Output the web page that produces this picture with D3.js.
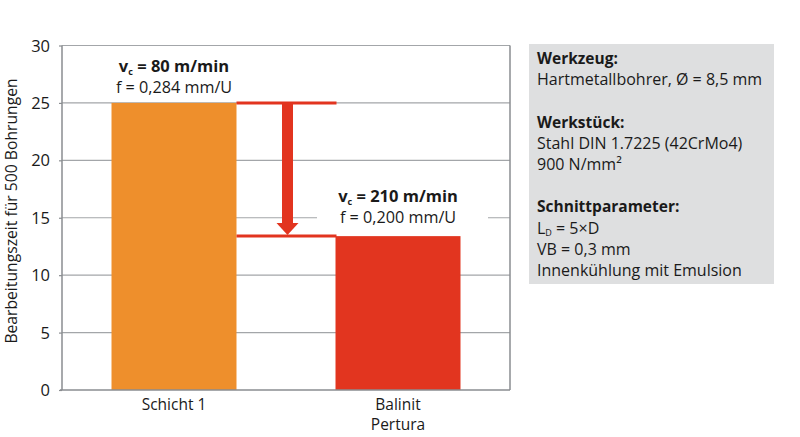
<!DOCTYPE html>
<html><head><meta charset="utf-8">
<script src="https://cdn.jsdelivr.net/npm/d3@7"></script>
<style>
body{margin:0;background:#fff;}
svg text{font-family:"Open Sans","Noto Sans",sans-serif;fill:#1a1a1a;}
</style></head>
<body><svg id="c" width="800" height="437"></svg>
<script>
const categories = ["Schicht 1", "Balinit Pertura"];
const values = [25, 13.4];
const barColors = ["#EE8F2C", "#E2351F"];
const vcLabels = ["80 m/min", "210 m/min"];
const fLabels = ["f = 0,284 mm/U", "f = 0,200 mm/U"];
const yTicks = [0, 5, 10, 15, 20, 25, 30];
const yTitle = "Bearbeitungszeit für 500 Bohrungen";
const infoLines = [
  {t:"Werkzeug:", b:true},
  {t:"Hartmetallbohrer, Ø = 8,5 mm"},
  {t:""},
  {t:"Werkstück:", b:true},
  {t:"Stahl DIN 1.7225 (42CrMo4)"},
  {t:"900 N/mm²"},
  {t:""},
  {t:"Schnittparameter:", b:true},
  {t:"LD", sub:true},
  {t:"VB = 0,3 mm"},
  {t:"Innenkühlung mit Emulsion"}
];

const svg = d3.select("#c");
const L = 62, R = 510, T = 45.5, B = 390;
const x = d3.scaleBand().domain(categories).range([L, R]).paddingInner(0.442).paddingOuter(0.221);
const y = d3.scaleLinear().domain([0, 30]).range([B, T]);
const red = "#E2341F", grid = "#a3a6a9";

// gridlines
svg.append("g").selectAll("line").data(yTicks.filter(d => d > 0)).join("line")
  .attr("x1", L).attr("x2", R).attr("y1", d => y(d)).attr("y2", d => y(d))
  .attr("stroke", grid).attr("stroke-width", 1.2);

// frame: left axis, right border
svg.append("line").attr("x1", L).attr("x2", L).attr("y1", T).attr("y2", B).attr("stroke", "#8a8d90").attr("stroke-width", 1.5);
svg.append("line").attr("x1", R).attr("x2", R).attr("y1", T).attr("y2", B).attr("stroke", "#8a8d90").attr("stroke-width", 1.5);

// y axis ticks and labels
const yAxis = d3.axisLeft(y).tickValues(yTicks).tickSize(3).tickPadding(9).tickFormat(d3.format("d"));
const ga = svg.append("g").attr("transform", `translate(${L},0)`).call(yAxis);
ga.select(".domain").remove();
ga.selectAll(".tick line").attr("stroke", "#8a8d90").attr("stroke-width", 1.2);
ga.selectAll(".tick text").attr("font-size", 16.5).attr("font-family", '"Open Sans",sans-serif').attr("fill", "#1a1a1a").attr("dy", "0.34em");

// y title
svg.append("text").attr("transform", `translate(17,${211}) rotate(-90)`)
  .attr("text-anchor", "middle").attr("font-size", 15.7).text(yTitle);

// bars
svg.append("g").selectAll("rect").data(values).join("rect")
  .attr("x", (d, i) => x(categories[i])).attr("width", x.bandwidth())
  .attr("y", d => y(d)).attr("height", d => B - y(d))
  .attr("fill", (d, i) => barColors[i]);

// bottom axis line
svg.append("line").attr("x1", L - 2).attr("x2", R).attr("y1", B).attr("y2", B).attr("stroke", "#8a8d90").attr("stroke-width", 1.5);

// category labels
categories.forEach((c, i) => {
  const words = c === "Schicht 1" ? [c] : c.split(" ");
  const t = svg.append("text").attr("text-anchor", "middle").attr("font-size", 15.5)
    .attr("x", x(c) + x.bandwidth() / 2).attr("y", 409.5);
  words.forEach((w, k) => t.append("tspan").attr("x", x(c) + x.bandwidth() / 2).attr("dy", k ? 20.5 : 0).text(w));
});

// reduction arrow
const x0 = x(categories[0]) + x.bandwidth(), x1 = x(categories[1]);
const ax = x0 + 51;
svg.append("line").attr("x1", x0).attr("x2", x1 + 1).attr("y1", y(values[0])).attr("y2", y(values[0])).attr("stroke", red).attr("stroke-width", 3);
svg.append("line").attr("x1", x0).attr("x2", x1 + 1).attr("y1", y(values[1])).attr("y2", y(values[1])).attr("stroke", red).attr("stroke-width", 3);
svg.append("rect").attr("x", ax - 5.5).attr("width", 11).attr("y", y(values[0])).attr("height", y(values[1]) - 12 - y(values[0])).attr("fill", red);
svg.append("path").attr("d", `M${ax - 11},${y(values[1]) - 13} L${ax + 11},${y(values[1]) - 13} L${ax},${y(values[1]) - 1} Z`).attr("fill", red);

// value annotations
const annY = [[72, 93], [202, 223]];
values.forEach((v, i) => {
  const cx = x(categories[i]) + x.bandwidth() / 2;
  if (i === 1) svg.append("rect").attr("x", cx - 81).attr("width", 171).attr("y", y(15) - 4).attr("height", 8).attr("fill", "#fff");
  const t = svg.append("text").attr("text-anchor", "middle").attr("x", cx).attr("y", annY[i][0]).attr("font-size", 16.5).attr("font-weight", "bold");
  t.append("tspan").text("v");
  t.append("tspan").attr("font-size", 9).attr("dy", 2.5).text("c");
  t.append("tspan").attr("dy", -2.5).text(" = " + vcLabels[i]);
  svg.append("text").attr("text-anchor", "middle").attr("x", cx).attr("y", annY[i][1]).attr("font-size", 16.2).text(fLabels[i]);
});

// info box
svg.append("rect").attr("x", 529).attr("y", 44).attr("width", 245).attr("height", 240).attr("fill", "#dedfe0");
infoLines.forEach((l, i) => {
  const t = svg.append("text").attr("x", 537).attr("y", 64 + i * 21.2).attr("font-size", l.b ? 15.5 : 16)
    .attr("font-weight", l.b ? "bold" : null);
  if (l.sub) {
    t.append("tspan").text("L");
    t.append("tspan").attr("font-size", 9).attr("dy", 2.5).text("D");
    t.append("tspan").attr("dy", -2.5).text(" = 5×D");
  } else t.text(l.t);
});
</script></body></html>
